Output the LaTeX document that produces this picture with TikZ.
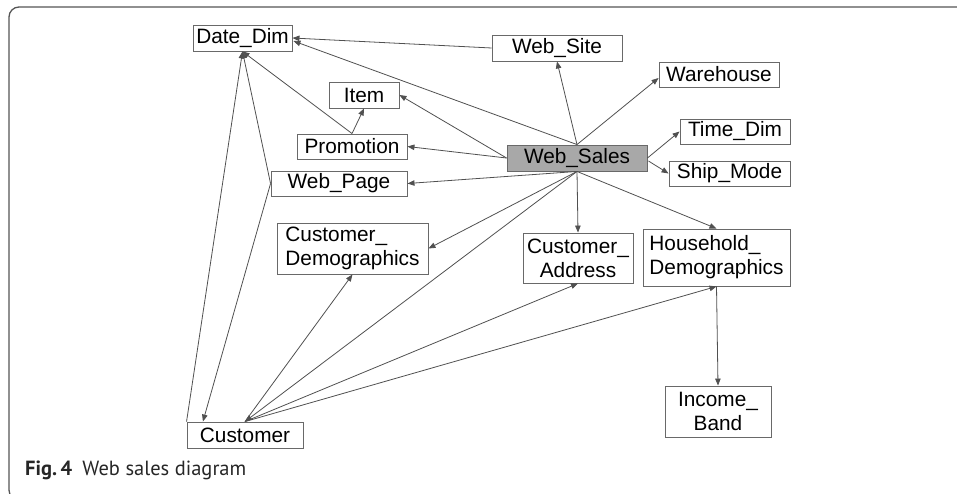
\documentclass[tikz,border=0pt]{standalone}
\usepackage{fontspec}
\setmainfont{Liberation Sans}
\newfontfamily\capfont{PT Sans}
\usetikzlibrary{arrows.meta,calc}
\definecolor{edgecol}{RGB}{80,80,80}
\definecolor{boxcol}{RGB}{105,105,105}
\definecolor{factfill}{RGB}{168,168,168}
\definecolor{framecol}{RGB}{85,85,85}
\begin{document}
\begin{tikzpicture}[x=1pt,y=-1pt,
  tbl/.style={draw=boxcol,line width=0.9pt,inner sep=0pt,
    font=\fontsize{20.8}{24}\selectfont,text=black},
  rel/.style={draw=edgecol,line width=0.8pt,-{Triangle[length=7pt,width=5.5pt]}}]
\useasboundingbox (0,0) rectangle (957,493);
% outer frame
\draw[framecol,line width=1.3pt,rounded corners=10pt]
  (960,7) -- (9,7) -- (9,500) -- (960,500);

% tables
\node[tbl,minimum width=99pt,minimum height=26pt] (dd) at (242.5,38) {Date\_Dim};
\node[tbl,minimum width=130pt,minimum height=26pt] (site) at (557,48) {Web\_Site};
\node[tbl,minimum width=120pt,minimum height=25pt] (wh) at (719,74.5) {Warehouse};
\node[tbl,minimum width=70pt,minimum height=26pt] (item) at (364,95) {Item};
\node[tbl,minimum width=110pt,minimum height=25pt] (promo) at (352,146.5) {Promotion};
\node[tbl,minimum width=110pt,minimum height=25pt] (td) at (735,131.5) {Time\_Dim};
\node[tbl,fill=factfill,minimum width=140pt,minimum height=26pt] (ws) at (577,158) {Web\_Sales};
\node[tbl,minimum width=121pt,minimum height=25pt] (sm) at (729.5,173.5) {Ship\_Mode};
\node[tbl,minimum width=136pt,minimum height=25pt] (wp) at (339,183.5) {Web\_Page};
\node[tbl,align=left,minimum width=151pt,minimum height=51pt] (cd) at (352.5,248.5) {Customer\_\\Demographics};
\node[tbl,align=center,minimum width=110pt,minimum height=50pt] (ca) at (578,258) {Customer\_\\Address};
\node[tbl,align=left,minimum width=147pt,minimum height=57pt] (hd) at (716.5,257.5) {Household\_\\Demographics};
\node[tbl,align=center,minimum width=106pt,minimum height=51pt] (ib) at (718,411.5) {Income\_\\Band};
\node[tbl,minimum width=116pt,minimum height=26pt] (cust) at (245,435) {Customer};

% relations from the fact table
\draw[rel] (site.west) -- (dd.east);
\draw[rel] (ws.north) -- ($(dd.east)+(1,3)$);
\draw[rel] (ws.north) -- (site.south);
\draw[rel] (ws.north) -- ($(wh.west)+(0,3.5)$);
\draw[rel] (ws.east) -- (td.west);
\draw[rel] ($(ws.east)+(1,3)$) -- (sm.west);
\draw[rel] (ws.west) -- (item.east);
\draw[rel] (ws.west) -- (promo.east);
\draw[rel] (ws.south) -- (wp.east);
\draw[rel] (ws.south) -- (ca.north);
\draw[rel] (ws.south) -- (hd.north);
\draw[rel] (ws.south) -- (cd.east);
\draw[rel] (ws.south) -- (cust.north);

% snowflake relations
\draw[rel] (promo.north) -- (item.south);
\draw[rel] (promo.north) -- (dd.south);
\draw[rel] (wp.west) -- (dd.south);
\draw[rel] (wp.west) -- ($(cust.north west)!0.14!(cust.north east)$);
\draw[rel] (cust.north west) -- (dd.south);
\draw[rel] (cust.north) -- (cd.south);
\draw[rel] (cust.north) -- (ca.south);
\draw[rel] (cust.north) -- (hd.south);
\draw[rel] (hd.south) -- (ib.north);

% caption
\node[anchor=base west,inner sep=0pt,font=\capfont\fontsize{20.5}{24}\selectfont,text=black!85]
  (cap) at (25,475) {\textbf{Fig.\,4}\hspace{0.5em}Web sales diagram};
\end{tikzpicture}
\end{document}
